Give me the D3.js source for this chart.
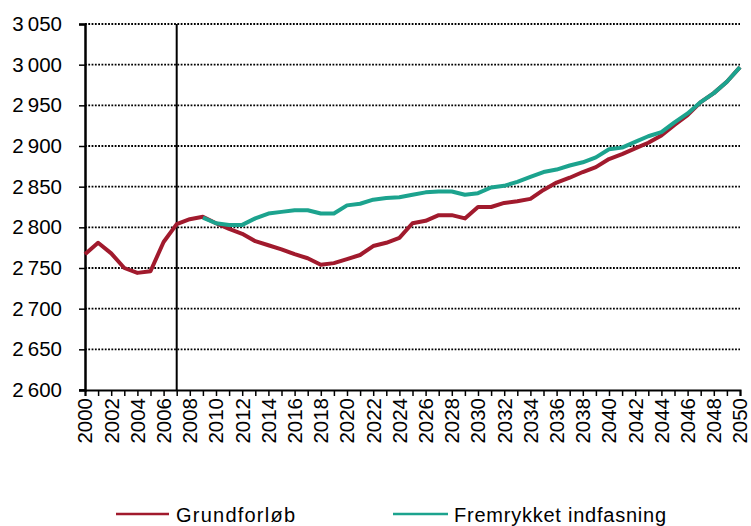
<!DOCTYPE html>
<html>
<head>
<meta charset="utf-8">
<script src="https://cdn.jsdelivr.net/npm/d3@7"></script>
<style>
  html, body { margin: 0; padding: 0; background: #fff; }
  svg { display: block; font-family: "Liberation Sans", Arial, sans-serif; }
</style>
</head>
<body>
<svg id="chart" width="751" height="526"></svg>
<script>
// Population projection, thousands, 2000–2050
const years = d3.range(2000, 2051);
const grundforlob = [
  2767, 2781, 2768, 2750, 2744, 2746, 2782, 2804, 2810, 2813,
  2805, 2798, 2792, 2783, 2778, 2773, 2767, 2762, 2754, 2756,
  2761, 2766, 2777, 2781, 2787, 2805, 2808, 2815, 2815, 2811,
  2825, 2825, 2830, 2832, 2835, 2846, 2855, 2861, 2868, 2874,
  2884, 2890, 2897, 2904, 2913, 2926, 2938, 2954, 2965, 2979,
  2997
];
// Alternative path starts in 2009
const fremrykYears = d3.range(2009, 2051);
const fremrykket = [
  2812, 2805, 2803, 2803, 2811, 2817, 2819, 2821, 2821, 2817,
  2817, 2827, 2829, 2834, 2836, 2837, 2840, 2843, 2844, 2844,
  2840, 2842, 2849, 2851, 2856, 2862, 2868, 2871, 2876, 2880,
  2886, 2896, 2898, 2905, 2912, 2917, 2929, 2940, 2954, 2965,
  2979, 2997
];
const yTicks = [2600, 2650, 2700, 2750, 2800, 2850, 2900, 2950, 3000, 3050];
const xLabelYears = d3.range(2000, 2051, 2);
const markerYear = 2007;
const seriesNames = ["Grundforløb", "Fremrykket indfasning"];

const RED = "#A11A2D", TEAL = "#1CA38E";

const svg = d3.select("#chart");
const x = d3.scaleLinear().domain([2000, 2050]).range([85, 740]);
const y = d3.scaleLinear().domain([2600, 3050]).range([390, 24]);
const fmt = v => d3.format(",")(v).replace(",", "\u2009");

// Dotted horizontal gridlines
svg.append("g").selectAll("line")
  .data(yTicks.filter(d => d > 2600))
  .join("line")
  .attr("x1", x(2000)).attr("x2", x(2050))
  .attr("y1", d => y(d)).attr("y2", d => y(d))
  .attr("stroke", "#000").attr("stroke-width", 1.8)
  .attr("stroke-dasharray", "1.8,1.5");

// Y axis
const yAxis = svg.append("g")
  .attr("transform", `translate(${x(2000)},0)`)
  .call(d3.axisLeft(y).tickValues(yTicks).tickSize(6).tickPadding(17).tickFormat(fmt));
yAxis.select(".domain").attr("stroke", "#000").attr("stroke-width", 2.5);
yAxis.selectAll(".tick line").attr("stroke", "#000").attr("stroke-width", 1.5);
yAxis.selectAll("text")
  .attr("font-size", 20.5).attr("fill", "#000")
  .attr("font-family", "'Liberation Sans', Arial, sans-serif");

// X axis with yearly ticks
const xAxis = svg.append("g")
  .attr("transform", `translate(0,${y(2600)})`)
  .call(d3.axisBottom(x).tickValues(years).tickSize(6).tickFormat(""));
xAxis.select(".domain").attr("stroke", "#000").attr("stroke-width", 2);
xAxis.selectAll(".tick line").attr("stroke", "#000").attr("stroke-width", 1.5);
svg.append("line")
  .attr("x1", x(2000) - 6).attr("x2", x(2000))
  .attr("y1", y(2600)).attr("y2", y(2600))
  .attr("stroke", "#000").attr("stroke-width", 1.5);

// Rotated year labels
svg.append("g").selectAll("text")
  .data(xLabelYears)
  .join("text")
  .attr("transform", d => `translate(${x(d)},${y(2600) + 8}) rotate(-90)`)
  .attr("text-anchor", "end")
  .attr("dy", "0.36em")
  .attr("font-size", 20.5)
  .attr("fill", "#000")
  .text(d => d);

// Vertical marker at the last observed year
svg.append("line")
  .attr("x1", x(markerYear)).attr("x2", x(markerYear))
  .attr("y1", y(3050)).attr("y2", y(2600))
  .attr("stroke", "#000").attr("stroke-width", 2);

// Series lines
const line = d3.line().x(d => x(d[0])).y(d => y(d[1]));
svg.append("path")
  .datum(years.map((yr, i) => [yr, grundforlob[i]]))
  .attr("d", line)
  .attr("fill", "none").attr("stroke", RED).attr("stroke-width", 4)
  .attr("stroke-linejoin", "round");
svg.append("path")
  .datum(fremrykYears.map((yr, i) => [yr, fremrykket[i]]))
  .attr("d", line)
  .attr("fill", "none").attr("stroke", TEAL).attr("stroke-width", 4)
  .attr("stroke-linejoin", "round");

// Legend
const legend = [
  { name: seriesNames[0], color: RED, x0: 116, x1: 169, tx: 176, tw: 119 },
  { name: seriesNames[1], color: TEAL, x0: 393, x1: 448, tx: 454, tw: 212 }
];
const lg = svg.append("g");
legend.forEach(d => {
  lg.append("line")
    .attr("x1", d.x0).attr("x2", d.x1).attr("y1", 514).attr("y2", 514)
    .attr("stroke", d.color).attr("stroke-width", 2.5);
  lg.append("text")
    .attr("x", d.tx).attr("y", 522)
    .attr("font-size", 20)
    .attr("fill", "#000")
    .attr("textLength", d.tw).attr("lengthAdjust", "spacing")
    .text(d.name);
});
</script>
</body>
</html>
